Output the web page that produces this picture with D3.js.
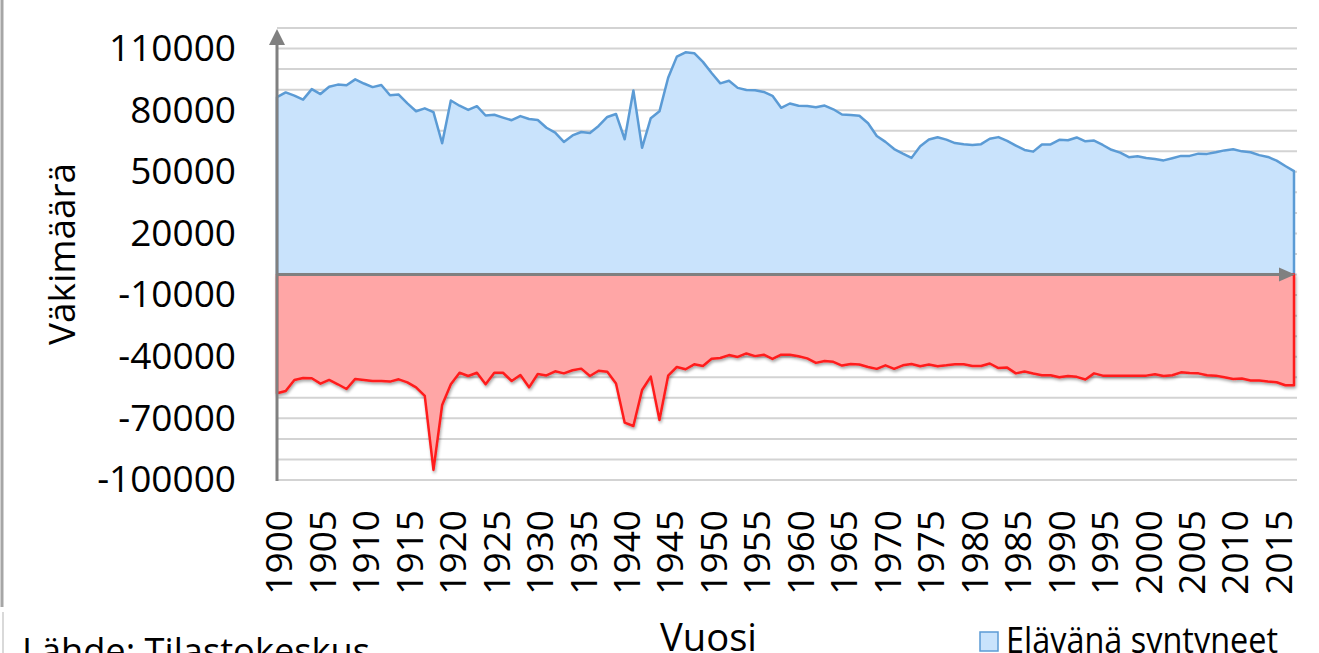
<!DOCTYPE html>
<html>

<head>
    <title>Elävänä syntyneet ja kuolleet</title>
    <script src="https://d3js.org/d3.v7.min.js"></script>
    <style>
        body {
            margin: 0;
            background: #fff;
        }

        text {
            font-family: "Open Sans", sans-serif;
            fill: #000;
        }

        .grid line {
            stroke: #d3d3d3;
            stroke-width: 2px;
        }
    </style>
</head>

<body>
    <div id="chart"></div>
    <script>
        // vuodet 1900-2017
        const years = d3.range(1900, 2018);

        const births = [
            86339, 88637, 87082, 85120, 90253, 87841, 91401, 92457, 92145, 95005,
            92984, 91238, 92275, 87250, 87577, 83306, 79502, 80904, 79066, 63896,
            84714, 82165, 80140, 81961, 77418, 77765, 76400, 75107, 77127, 75700,
            75236, 71463, 69063, 64553, 67707, 69362, 68895, 72319, 76695, 78164,
            65849, 89565, 61672, 76112, 79446, 95758, 106075, 108168, 107759, 103515,
            98065, 93063, 94314, 90866, 89845, 89740, 88896, 86985, 81148, 83253,
            82129, 81996, 81454, 82251, 80428, 77885, 77697, 77289, 73654, 67450,
            64559, 61067, 58864, 56787, 62472, 65719, 66846, 65659, 63983, 63428,
            63064, 63469, 66106, 66892, 65076, 62796, 60632, 59827, 63316, 63348,
            65549, 65395, 66731, 64826, 65231, 63067, 60723, 59329, 57108, 57574,
            56742, 56189, 55555, 56630, 57758, 57745, 58840, 58729, 59530, 60430,
            60980, 59961, 59493, 58134, 57232, 55472, 52814, 50321
        ];

        // kuolleet negatiivisina
        const deaths = [
            -57800, -56700, -51300, -50400, -50500, -53100, -51300, -53400, -55700, -50800,
            -51300, -51800, -51800, -52100, -51000, -52500, -54900, -59100, -95100, -63500,
            -53400, -47800, -49400, -47800, -53400, -47800, -47800, -51800, -48900, -54900,
            -48400, -49100, -47100, -48100, -46600, -45800, -49400, -46800, -47300, -53000,
            -72100, -73700, -56200, -49700, -70800, -49200, -45000, -46100, -43700, -44500,
            -41000, -40600, -39200, -40100, -38400, -39700, -39000, -41100, -39000, -39000,
            -39800, -40800, -43000, -42100, -42500, -44300, -43500, -43800, -45000, -45900,
            -44200, -45900, -44200, -43500, -44600, -43800, -44600, -44200, -43700, -43700,
            -44500, -44500, -43300, -45500, -45300, -48100, -47200, -48200, -49000, -49000,
            -50000, -49400, -49800, -51100, -48100, -49200, -49200, -49200, -49200, -49200,
            -49200, -48500, -49400, -49000, -47600, -47900, -48100, -49000, -49200, -50000,
            -50800, -50600, -51600, -51600, -52100, -52400, -53900, -53900
        ];

        const yTicks = [-100000, -70000, -40000, -10000, 20000, 50000, 80000, 110000];
        const xTicks = d3.range(1900, 2016, 5);

        const width = 1319, height = 653;

        const svg = d3.select("#chart")
            .append("svg")
            .attr("width", width)
            .attr("height", height);

        const defs = svg.append("defs");
        defs.append("filter")
            .attr("id", "shadow")
            .attr("x", "-5%").attr("y", "-5%")
            .attr("width", "110%").attr("height", "120%")
            .append("feDropShadow")
            .attr("dx", 1).attr("dy", 2)
            .attr("stdDeviation", 1.5)
            .attr("flood-color", "#000")
            .attr("flood-opacity", 0.35);

        const x = d3.scaleLinear().domain([1900, 2017]).range([277, 1294]);
        const y = d3.scaleLinear().domain([-100000, 120000]).range([480, 28]);

        // vasen reunaviiva
        svg.append("line")
            .attr("x1", 2).attr("x2", 2).attr("y1", 0).attr("y2", 607)
            .attr("stroke", "#a6a6a6").attr("stroke-width", 3);
        svg.append("line")
            .attr("x1", 3).attr("x2", 3).attr("y1", 612).attr("y2", height)
            .attr("stroke", "#d9d9d9").attr("stroke-width", 2);

        // vaakaviivat 10000 välein
        svg.append("g")
            .attr("class", "grid")
            .selectAll("line")
            .data(d3.range(-100000, 120001, 10000))
            .join("line")
            .attr("x1", 277)
            .attr("x2", 1297)
            .attr("y1", d => y(d))
            .attr("y2", d => y(d));

        const area = d3.area()
            .x((d, i) => x(years[i]))
            .y0(y(0))
            .y1(d => y(d));

        svg.append("path")
            .datum(births)
            .attr("d", area)
            .attr("fill", "#c9e3fc")
            .attr("stroke", "#5b9bd5")
            .attr("stroke-width", 2.5)
            .attr("stroke-linejoin", "round");

        svg.append("path")
            .datum(deaths)
            .attr("d", area)
            .attr("fill", "#ffa6a6")
            .attr("stroke", "#ff1c1c")
            .attr("stroke-width", 2.5)
            .attr("stroke-linejoin", "round")
            .attr("filter", "url(#shadow)");

        // akselit nuolineen
        const axisColor = "#808080";
        svg.append("line")
            .attr("x1", 277).attr("x2", 277)
            .attr("y1", 481).attr("y2", 40)
            .attr("stroke", axisColor).attr("stroke-width", 3);
        svg.append("path")
            .attr("d", `M269,45 L277,29 L285,45 Z`)
            .attr("fill", axisColor);

        svg.append("line")
            .attr("x1", 277).attr("x2", 1284)
            .attr("y1", y(0)).attr("y2", y(0))
            .attr("stroke", axisColor).attr("stroke-width", 3);
        svg.append("path")
            .attr("d", `M1279,${y(0) - 7} L1295,${y(0)} L1279,${y(0) + 7} Z`)
            .attr("fill", axisColor);

        // y-akselin luvut, tavallinen yhdysmerkki miinuksena
        const fmt = d => String(d);

        svg.append("g")
            .attr("transform", "translate(277,0)")
            .call(d3.axisLeft(y).tickValues(yTicks).tickSize(0).tickPadding(41).tickFormat(fmt))
            .call(g => g.select(".domain").remove())
            .selectAll("text")
            .style("font-family", "'Open Sans', sans-serif")
            .style("font-size", "37px")
            .attr("fill", "#000");

        // x-akselin vuodet pystyssä
        svg.append("g")
            .attr("transform", "translate(0,510)")
            .call(d3.axisBottom(x).tickValues(xTicks).tickSize(0).tickFormat(fmt))
            .call(g => g.select(".domain").remove())
            .selectAll("text")
            .attr("transform", "rotate(-90)")
            .attr("text-anchor", "end")
            .attr("x", 0)
            .attr("y", 0)
            .attr("dy", "0.4em")
            .style("font-family", "'Open Sans', sans-serif")
            .style("font-size", "37px")
            .attr("fill", "#000");

        svg.append("text")
            .attr("transform", "translate(75,254) rotate(-90)")
            .attr("text-anchor", "middle")
            .attr("textLength", 182)
            .attr("lengthAdjust", "spacingAndGlyphs")
            .style("font-size", "37px")
            .text("Väkimäärä");

        svg.append("text")
            .attr("x", 660)
            .attr("y", 651)
            .attr("textLength", 97)
            .attr("lengthAdjust", "spacingAndGlyphs")
            .style("font-size", "38px")
            .text("Vuosi");

        svg.append("text")
            .attr("x", 22)
            .attr("y", 664)
            .attr("textLength", 348)
            .attr("lengthAdjust", "spacingAndGlyphs")
            .style("font-size", "37px")
            .text("Lähde: Tilastokeskus");

        // selite
        svg.append("rect")
            .attr("x", 980).attr("y", 632)
            .attr("width", 18).attr("height", 19)
            .attr("fill", "#c9e3fc")
            .attr("stroke", "#5b9bd5")
            .attr("stroke-width", 1.5);
        svg.append("text")
            .attr("x", 1006)
            .attr("y", 653)
            .attr("textLength", 272)
            .attr("lengthAdjust", "spacingAndGlyphs")
            .style("font-size", "37px")
            .text("Elävänä syntyneet");
    </script>

</body>

</html>
